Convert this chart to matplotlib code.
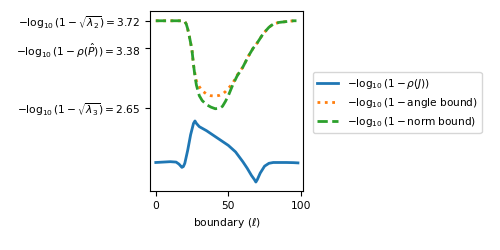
import matplotlib
matplotlib.use("Agg")
import matplotlib.pyplot as plt

plt.rcParams["font.size"] = 7.7

# boundary position and curve values
x_rho = [0, 5, 10, 14, 16, 18, 19, 20, 22, 24, 26, 27, 28, 30, 35, 40, 45, 50,
         55, 60, 63, 66, 68, 69, 70, 72, 75, 78, 81, 85, 90, 95, 98]
rho_J = [1.98, 1.985, 1.99, 1.985, 1.96, 1.92, 1.93, 1.97, 2.13, 2.32, 2.46, 2.49,
         2.46, 2.42, 2.37, 2.31, 2.25, 2.19, 2.11, 1.99, 1.91, 1.82, 1.77, 1.74,
         1.77, 1.85, 1.935, 1.97, 1.98, 1.98, 1.98, 1.978, 1.975]

x_bound = [0, 5, 10, 15, 18, 20, 21, 22, 23, 24, 25, 26, 27, 28, 30, 32, 35, 38,
           41, 44, 46, 48, 50, 53, 56, 60, 64, 67, 70, 74, 78, 81, 85, 90, 95, 97]
norm_bound = [3.72, 3.72, 3.72, 3.72, 3.72, 3.71, 3.68, 3.62, 3.54, 3.45, 3.35, 3.18,
              3.04, 2.93, 2.80, 2.74, 2.69, 2.66, 2.64, 2.645, 2.67, 2.73, 2.80, 2.93,
              3.04, 3.15, 3.29, 3.38, 3.45, 3.56, 3.64, 3.68, 3.70, 3.71, 3.72, 3.72]
angle_bound = [3.72, 3.72, 3.72, 3.72, 3.72, 3.71, 3.68, 3.62, 3.54, 3.45, 3.35, 3.18,
               3.07, 2.98, 2.91, 2.86, 2.82, 2.80, 2.795, 2.805, 2.82, 2.85, 2.89, 2.95,
               3.05, 3.15, 3.29, 3.38, 3.45, 3.56, 3.64, 3.68, 3.70, 3.71, 3.72, 3.72]

ytick_vals = [3.72, 3.38, 2.65]
ytick_labels = [r"$-\log_{10}(1-\sqrt{\lambda_2}) = 3.72$",
                r"$-\log_{10}(1-\rho(\hat{P})) = 3.38$",
                r"$-\log_{10}(1-\sqrt{\lambda_3}) = 2.65$"]

fig = plt.figure(figsize=(5, 2.5), dpi=100)
ax = fig.add_axes([0.30, 0.236, 0.306, 0.72])

ax.plot(x_rho, rho_J, color="C0", lw=2, label=r"$-\log_{10}(1-\rho(J))$")
ax.plot(x_bound, angle_bound, color="C1", lw=2, ls=":", label=r"$-\log_{10}(1-$angle bound$)$")
ax.plot(x_bound, norm_bound, color="C2", lw=2, ls="--", label=r"$-\log_{10}(1-$norm bound$)$")

ax.set_yticks(ytick_vals)
ax.set_yticklabels(ytick_labels)
ax.set_xticks([0, 50, 100])
ax.set_xlim(-4, 101.5)
ax.set_ylim(1.63, 3.84)
ax.set_xlabel(r"boundary ($\ell$)")

ax.legend(loc="center left", bbox_to_anchor=(1.03, 0.49), fontsize=7.6)

fig.savefig("out.png", dpi=100)
